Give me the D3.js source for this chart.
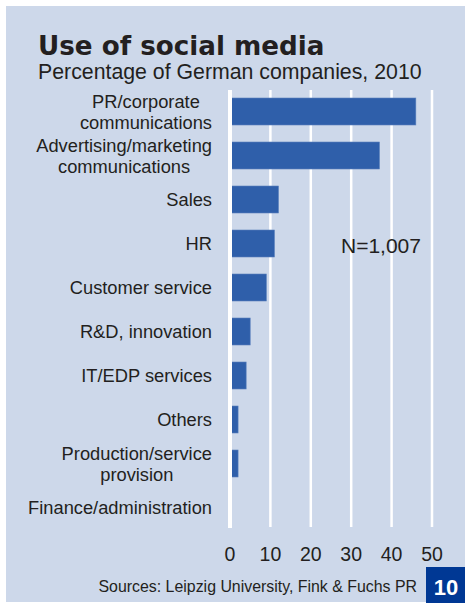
<!DOCTYPE html>
<html>
<head>
<meta charset="utf-8">
<script src="https://cdnjs.cloudflare.com/ajax/libs/d3/7.8.5/d3.min.js"></script>
<style>
  body { margin: 0; background: #fff; }
  svg text { font-family: "Liberation Sans", Arial, sans-serif; fill: #231f20; }
</style>
</head>
<body>
<div id="chart"></div>
<script>
var categories = [
    ["PR/corporate", "communications"],
    ["Advertising/marketing", "communications"],
    ["Sales"],
    ["HR"],
    ["Customer service"],
    ["R&D, innovation"],
    ["IT/EDP services"],
    ["Others"],
    ["Production/service", "provision"],
    ["Finance/administration"]
];
var values = [46, 37, 12, 11, 9, 5, 4, 2, 2, 0];
var ticks = [0, 10, 20, 30, 40, 50];

var width = 465,
    height = 605;

var svg = d3.select("#chart")
    .append("svg")
    .attr("width", width)
    .attr("height", height);

// panel
svg.append("rect")
    .attr("x", 6).attr("y", 6)
    .attr("width", width - 6).attr("height", 596)
    .attr("fill", "#cdd8ea");

svg.append("text")
    .attr("x", 38).attr("y", 55)
    .style("font-family", "'DejaVu Sans', sans-serif")
    .attr("font-weight", "bold")
    .attr("font-size", 26.2)
    .text("Use of social media");

svg.append("text")
    .attr("x", 38).attr("y", 79)
    .attr("font-size", 21.3)
    .text("Percentage of German companies, 2010");

var x = d3.scaleLinear().domain([0, 50]).range([230, 432]);
var y = d3.scaleBand()
    .domain(d3.range(categories.length))
    .range([89.5, 529.5])
    .paddingInner(17 / 44)
    .paddingOuter(17 / 88);

// grid
svg.selectAll(".grid")
    .data(ticks.slice(1))
    .enter().append("line")
    .attr("class", "grid")
    .attr("x1", function(d){ return x(d); })
    .attr("x2", function(d){ return x(d); })
    .attr("y1", 90).attr("y2", 527)
    .attr("stroke", "#fff")
    .attr("stroke-width", 2.5);

svg.selectAll(".bar")
    .data(values)
    .enter().append("rect")
    .attr("class", "bar")
    .attr("x", x(0))
    .attr("y", function(d, i){ return y(i); })
    .attr("width", function(d){ return x(d) - x(0); })
    .attr("height", y.bandwidth())
    .attr("fill", "#2f5faa")
    .attr("stroke", "#5a80bd")
    .attr("stroke-width", 0.6);

// zero line on top
svg.append("line")
    .attr("x1", x(0)).attr("x2", x(0))
    .attr("y1", 90).attr("y2", 528)
    .attr("stroke", "#fff")
    .attr("stroke-width", 4);

// category labels: block centred, widest line flush at 212
var labels = svg.selectAll(".cat")
    .data(categories)
    .enter().append("text")
    .attr("class", "cat")
    .attr("font-size", 18.3)
    .attr("text-anchor", "middle");

labels.each(function(lines, i){
    var t = d3.select(this);
    var cy = y(i) + y.bandwidth() / 2;
    var lh = 21;
    var first = cy + 6.5 - (lines.length - 1) * lh / 2;
    lines.forEach(function(s, j){
        t.append("tspan").attr("y", first + j * lh).text(s);
    });
    var w = d3.max(t.selectAll("tspan").nodes(), function(n){ return n.getComputedTextLength(); });
    t.selectAll("tspan").attr("x", 212 - w / 2);
});

// x axis labels
svg.selectAll(".tick-label")
    .data(ticks)
    .enter().append("text")
    .attr("class", "tick-label")
    .attr("x", function(d){ return x(d); })
    .attr("y", 560.5)
    .attr("text-anchor", "middle")
    .attr("font-size", 19.5)
    .text(function(d){ return d; });

svg.append("text")
    .attr("x", 381).attr("y", 253)
    .attr("text-anchor", "middle")
    .attr("font-size", 21)
    .text("N=1,007");

svg.append("text")
    .attr("x", 417).attr("y", 591.5)
    .attr("text-anchor", "end")
    .attr("font-size", 15.9)
    .text("Sources: Leipzig University, Fink & Fuchs PR");

svg.append("rect")
    .attr("x", 426).attr("y", 567)
    .attr("width", 39).attr("height", 36)
    .attr("fill", "#003894");

svg.append("text")
    .attr("x", 446).attr("y", 595)
    .attr("text-anchor", "middle")
    .attr("font-weight", "bold")
    .attr("font-size", 22)
    .style("fill", "#fff")
    .text("10");
</script>
</body>
</html>
